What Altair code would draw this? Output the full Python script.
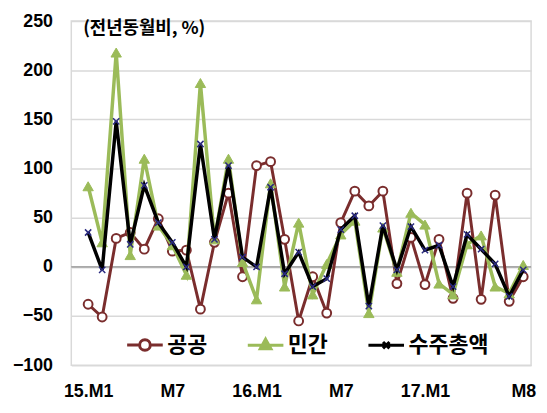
import altair as alt
import pandas as pd

# ---- data ----
series_names = ["공공", "민간", "수주총액"]
tick_values = [0, 6, 12, 18, 24, 31]
tick_labels = ["15.M1", "M7", "16.M1", "M7", "17.M1", "M8"]
y_ticks = [-100, -50, 0, 50, 100, 150, 200, 250]
title_text = "(전년동월비, %)"

public = [-38, -51, 29, 35, 18, 49, 16, 17, -43, 25, 75, -10, 103, 107, 28, -55,
          -10, -47, 45, 77, 62, 77, -17, 30, -18, 28, -32, 75, -33, 73, -35, -10]
private = [82, 25, 218, 12, 110, 42, 22, -8, 187, 28, 110, 5, -33, 85, -20, 45,
           -28, 3, 33, 47, -47, 40, -5, 55, 43, -17, -28, 23, 32, -20, -27, 2]
total = [35, -3, 148, 23, 83, 45, 25, 0, 125, 28, 103, 10, 0, 81, -7, 15,
         -20, -12, 38, 52, -40, 42, -3, 41, 17, 22, -20, 33, 18, 3, -30, -3]

n = len(public)
df = pd.DataFrame({
    "idx": list(range(n)) * 3,
    "series": [s for s in series_names for _ in range(n)],
    "value": public + private + total,
})

FONT = "Noto Sans CJK KR"
NUM_FONT = "Liberation Sans"
MAROON = "#7A2D2D"
GREEN = "#9BBB59"
BLACK = "#000000"
NAVY = "#2A2A80"
GRID = "#D9D9D9"

label_expr = " : ".join(
    f"datum.value == {v} ? '{l}'" for v, l in zip(tick_values, tick_labels)
) + " : ''"

x_enc = alt.X(
    "idx:Q",
    scale=alt.Scale(domain=[-1.2, 31.56], nice=False, zero=False),
    axis=alt.Axis(
        values=tick_values, labelExpr=label_expr, grid=False, ticks=False,
        tickSize=0, domain=False, labelFont=NUM_FONT, labelFontSize=18,
        labelFontWeight="bold", labelColor="black", labelPadding=27,
        labelBaseline="middle", labelFlush=False, labelOverlap=False,
        labelBound=False, title=None,
    ),
)
y_enc = alt.Y(
    "value:Q",
    scale=alt.Scale(domain=[-100, 250], nice=False, zero=False),
    axis=alt.Axis(
        values=y_ticks, grid=True, gridColor=GRID, gridWidth=1.5, ticks=False,
        tickSize=0, domain=False, labelFont=NUM_FONT, labelFontSize=18,
        labelFontWeight="bold", labelColor="black", labelPadding=19, title=None,
    ),
)

base = alt.Chart(df).encode(x=x_enc, y=y_enc)

zero_rule = alt.Chart(pd.DataFrame({"z": [0]})).mark_rule(
    color="#8C8C8C", strokeWidth=1.2
).encode(y=alt.datum(0))

X_PATH = "M-1,-1L1,1M-1,1L1,-1"


def layers_for(name, color, width, shape, size, fill, sw, filled=True):
    sub = base.transform_filter(alt.datum.series == name)
    line = sub.mark_line(color=color, strokeWidth=width)
    if filled:
        pts = sub.mark_point(shape=shape, size=size, filled=True, fill=fill,
                             stroke=color, strokeWidth=sw, opacity=1)
    else:
        pts = sub.mark_point(shape=shape, size=size, filled=False,
                             stroke=fill, strokeWidth=sw, opacity=1)
    return [line, pts]


pub_layers = layers_for("공공", MAROON, 3, "circle", 80, "white", 2)
pri_layers = layers_for("민간", GREEN, 3.5, "triangle-up", 110, GREEN, 1)
tot_layers = layers_for("수주총액", BLACK, 3.5, X_PATH, 40, NAVY, 1.5, filled=False)

# legend-only layer: symbols are a line plus the series marker
leg_paths = [
    "M-1,0H-0.3M0.3,0H1M0.3,0A0.3,0.3 0 1 1 -0.3,0A0.3,0.3 0 1 1 0.3,0Z",
    "M-1,0H1M0,-0.34L0.3,0.2L-0.3,0.2Z",
    "M-1,0H1M-0.18,-0.18L0.18,0.18M-0.18,0.18L0.18,-0.18",
]
leg_common = dict(
    title=None, orient="none", legendX=55, legendY=308, direction="horizontal",
    columns=3, labelFont=FONT, labelFontSize=22, labelFontWeight="bold",
    labelColor="black", symbolSize=1296, symbolStrokeWidth=3, labelOffset=3,
    columnPadding=34, padding=0, symbolOpacity=1,
)
legend_layer = alt.Chart(df).transform_filter("false").mark_point(
    filled=True, opacity=1
).encode(
    shape=alt.Shape("series:N", scale=alt.Scale(domain=series_names, range=leg_paths),
                    legend=alt.Legend(**leg_common)),
    fill=alt.Fill("series:N", scale=alt.Scale(domain=series_names,
                                              range=["white", GREEN, BLACK]),
                  legend=alt.Legend(**leg_common)),
    stroke=alt.Stroke("series:N", scale=alt.Scale(domain=series_names,
                                                  range=[MAROON, GREEN, BLACK]),
                      legend=alt.Legend(**leg_common)),
)

title_layer = alt.Chart(pd.DataFrame({"t": [title_text]})).mark_text(
    align="left", baseline="middle", font=FONT, fontSize=18, fontWeight="bold",
    color="black",
).encode(text="t:N", x=alt.value(12), y=alt.value(8))

chart = alt.layer(
    zero_rule, *pub_layers, *pri_layers, *tot_layers, legend_layer, title_layer
).properties(
    width=465, height=348,
    autosize=alt.AutoSizeParams(type="none"),
    padding={"left": 64, "top": 11, "right": 8, "bottom": 38},
    background="white",
).configure_view(stroke=GRID, strokeWidth=1.5)

chart.save("out.html", embed_options={"renderer": "svg", "actions": False})
